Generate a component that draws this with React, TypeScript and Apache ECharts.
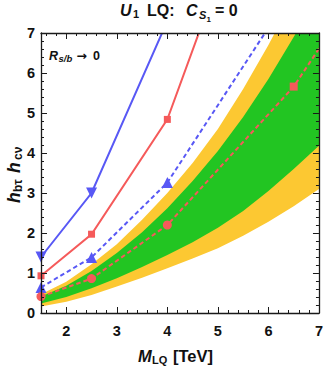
import React, { useEffect, useRef } from 'react';
import * as echarts from 'echarts';

// Band boundaries at these masses [TeV]
const massTeV = [1.5, 2, 2.5, 3, 3.5, 4, 4.5, 5, 5.5, 6, 6.5, 7];
const yellowLow = [0.16, 0.28, 0.45, 0.66, 0.88, 1.12, 1.36, 1.62, 1.93, 2.28, 2.67, 3.1];
const greenLow = [0.24, 0.4, 0.62, 0.87, 1.15, 1.45, 1.77, 2.13, 2.55, 3.05, 3.6, 4.18];
const greenHigh = [0.41, 0.68, 1.05, 1.5, 2.02, 2.62, 3.3, 4.05, 4.9, 5.85, 6.9, 8.0];
const yellowHigh = [0.47, 0.78, 1.22, 1.72, 2.33, 3.0, 3.75, 4.6, 5.6, 6.7, 7.9, 9.2];

// Benchmark lines
const lineMass = [1.5, 2.5, 4, 6.5, 8];
const blueSolid = [1.4, 3.0, 7.3];
const redSolid = [0.93, 1.97, 4.84, 13.5];
const blueDashed = [0.64, 1.39, 3.26, 8.1];
const redDashed = [0.41, 0.86, 2.2, 5.66, 8.5];

const xTickLabels = [2, 3, 4, 5, 6, 7];

const YELLOW = '#fcc832';
const GREEN = '#22c522';
const BLUE = '#5858f5';
const RED = '#f55a5a';
const FONT = 'Liberation Sans, Arial, DejaVu Sans, sans-serif';
const AXIS_COLOR = '#1a1a1a';

const minorX: number[] = [];
for (let k = 8; k <= 34; k++) {
  if (k % 5 !== 0) minorX.push(+(k * 0.2).toFixed(1));
}

const pairs = (vals: number[]) => vals.map((v, i) => [lineMass[i], v]);

function xAxisDef(position: 'bottom' | 'top', major: boolean) {
  return {
    type: 'value',
    min: 1.5,
    max: 7,
    position,
    axisLine: { show: major, onZero: false, lineStyle: { color: AXIS_COLOR, width: 1.3 } },
    axisTick: {
      show: true,
      inside: true,
      length: major ? 6 : 3,
      customValues: major ? xTickLabels : minorX,
      lineStyle: { color: AXIS_COLOR, width: 1 },
    },
    axisLabel: major && position === 'bottom'
      ? { show: true, customValues: xTickLabels, fontFamily: FONT, fontWeight: 'bold', fontSize: 14.5, color: '#111', margin: 10 }
      : { show: false },
    splitLine: { show: false },
    z: 10,
  };
}

function yAxisDef(position: 'left' | 'right') {
  return {
    type: 'value',
    min: 0,
    max: 7,
    interval: 1,
    position,
    axisLine: { show: true, onZero: false, lineStyle: { color: AXIS_COLOR, width: 1.3 } },
    axisTick: { show: true, inside: true, length: 6, lineStyle: { color: AXIS_COLOR, width: 1 } },
    minorTick: { show: true, splitNumber: 5, length: 3, lineStyle: { color: AXIS_COLOR, width: 1 } },
    axisLabel: position === 'left'
      ? { show: true, fontFamily: FONT, fontWeight: 'bold', fontSize: 14.5, color: '#111', margin: 6 }
      : { show: false },
    splitLine: { show: false },
    minorSplitLine: { show: false },
    z: 10,
  };
}

const bandSeries = (lo: number[], hi: number[], color: string) => ({
  type: 'custom',
  coordinateSystem: 'cartesian2d',
  xAxisIndex: 0,
  yAxisIndex: 0,
  clip: true,
  silent: true,
  z: 2,
  data: massTeV.map((m, i) => [m, lo[i], hi[i]]),
  encode: { x: 0, y: [1, 2] },
  renderItem: (params: any, api: any) => {
    if (params.dataIndex !== 0) return null;
    const upper = massTeV.map((m, i) => api.coord([m, hi[i]]));
    const lower = massTeV.map((m, i) => api.coord([m, lo[i]])).reverse();
    return {
      type: 'polygon',
      shape: { points: upper.concat(lower) },
      style: { fill: color, stroke: null },
    };
  },
});

// Benchmark polyline drawn through the axes' scales, clipped to the plot area
const benchSeries = (vals: number[], color: string, dashed: boolean) => ({
  type: 'custom',
  coordinateSystem: 'cartesian2d',
  xAxisIndex: 0,
  yAxisIndex: 0,
  clip: true,
  silent: true,
  z: 3,
  data: pairs(vals),
  encode: { x: 0, y: 1 },
  renderItem: (params: any, api: any) => {
    if (params.dataIndex !== 0) return null;
    const pts = vals.map((v, i) => api.coord([lineMass[i], v]));
    return {
      type: 'polyline',
      shape: { points: pts },
      style: { stroke: color, lineWidth: 2, fill: null, lineDash: dashed ? [4.5, 3] : null },
    };
  },
});

const t = (text: string, x: number, y: number, size: number, italic = false, bold = true, extra: any = {}) => ({
  type: 'text',
  x,
  y,
  z: 100,
  style: {
    text,
    fontFamily: FONT,
    fontSize: size,
    fontWeight: bold ? 'bold' : 'normal',
    fontStyle: italic ? 'italic' : 'normal',
    fill: '#111',
    align: 'left',
    verticalAlign: 'middle',
    ...extra,
  },
});

const markers = (vals: number[], color: string, symbol: any, size: any, rotate = 0) => ({
  type: 'scatter',
  data: pairs(vals),
  symbol,
  symbolSize: size,
  symbolRotate: rotate,
  itemStyle: { color, opacity: 1 },
  clip: true,
  silent: true,
  z: 5,
});

export default function App() {
  const ref = useRef<HTMLDivElement>(null);
  useEffect(() => {
    const chart = echarts.init(ref.current!, null, { renderer: 'svg' });
    const option: any = {
      animation: false,
      backgroundColor: '#fff',
      grid: { left: 41, right: 7, top: 33, bottom: 55, containLabel: false },
      xAxis: [
        xAxisDef('bottom', true),
        xAxisDef('bottom', false),
        xAxisDef('top', true),
        xAxisDef('top', false),
      ],
      yAxis: [yAxisDef('left'), yAxisDef('right')],
      series: [
        bandSeries(yellowLow, yellowHigh, YELLOW),
        bandSeries(greenLow, greenHigh, GREEN),
        benchSeries(blueSolid, BLUE, false),
        benchSeries(redSolid, RED, false),
        benchSeries(blueDashed, BLUE, true),
        benchSeries(redDashed, RED, true),
        markers(blueSolid, BLUE, 'triangle', 11, 180),
        markers(redSolid, RED, 'rect', 7),
        markers(blueDashed, BLUE, 'triangle', 11),
        markers(redDashed, RED, (v: number[]) => (v[0] === 6.5 ? 'rect' : 'circle'), (v: number[]) => (v[0] === 6.5 ? 8 : 9)),
      ],
      graphic: [
        // title
        t('U', 120, 10, 16, true),
        t('1', 133, 13.5, 11),
        t('LQ:', 147, 10, 16),
        t('C', 186, 10, 16, true),
        t('S', 199, 15, 11, true),
        t('1', 206.5, 19.5, 8),
        t('= 0', 215, 10, 16),
        // annotation
        t('R', 49, 55.5, 12.5, true),
        t('s/b', 58.5, 58, 9.5, true),
        t('\u2192', 76.5, 55, 12.5, false, true, { fontFamily: 'DejaVu Sans, Liberation Sans, sans-serif' }),
        t('0', 93, 55.5, 12.5),
        // x label
        t('M', 138, 355.5, 16.5, true),
        t('LQ', 152, 359.5, 11),
        t('[TeV]', 173, 355.5, 16.5),
        // y label
        {
          type: 'group',
          x: 13.5,
          y: 175,
          rotation: Math.PI / 2,
          children: [
            t('h', -28, 0, 17.5, true),
            t('b\u03c4', -17, 4, 12),
            t('h', 2, 0, 17.5, true),
            t('c\u03bd', 15, 4, 12),
          ],
        },
      ],
    };
    chart.setOption(option);
    return () => chart.dispose();
  }, []);
  return <div ref={ref} style={{ position: 'absolute', left: 0, top: 0, width: 326, height: 368 }} />;
}
